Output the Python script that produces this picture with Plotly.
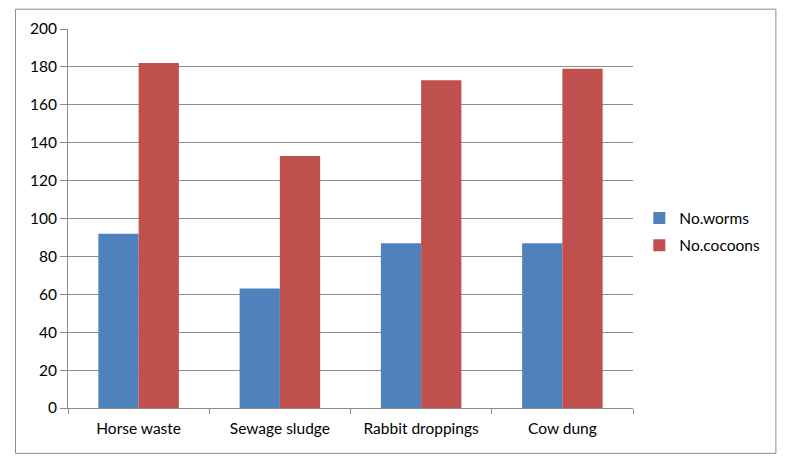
import plotly.graph_objects as go

categories = ["Horse waste", "Sewage sludge", "Rabbit droppings", "Cow dung"]
worms = [92, 63, 87, 87]
cocoons = [182, 133, 173, 179]
series_names = ["No.worms", "No.cocoons"]
y_ticks = [0, 20, 40, 60, 80, 100, 120, 140, 160, 180, 200]

BLUE = "#4F81BD"
RED = "#C0504D"
GRID = "#8C8C8C"
FONT = dict(family="Lato, Open Sans, sans-serif", size=15.5, color="#000000")

fig = go.Figure()
fig.add_trace(go.Bar(x=categories, y=worms, name=series_names[0], legendgroup="a",
                     marker=dict(color=BLUE, line=dict(width=0))))
fig.add_trace(go.Bar(x=categories, y=cocoons, name=series_names[1], legendgroup="b",
                     marker=dict(color=RED, line=dict(width=0))))

W, H = 786, 462
OFF = 8  # page body offset
# target pixel positions (in screenshot) of the plot area
left_px, right_px, top_px, bottom_px = 68, 632.7, 29.3, 407.7
ml = left_px - OFF
mt = top_px - OFF
mr = W - (right_px - OFF)
mb = H - (bottom_px - OFF)
pw = W - ml - mr
ph = H - mt - mb

def px_to_paper_x(px):
    return (px - left_px) / pw

def px_to_paper_y(py):
    return (bottom_px - py) / ph

fig.update_layout(
    width=W, height=H,
    margin=dict(l=ml, r=mr, t=mt, b=mb),
    paper_bgcolor="white", plot_bgcolor="white",
    font=FONT,
    barmode="group",
    bargap=0.43,
    bargroupgap=0,
    showlegend=True,
    legend=dict(x=px_to_paper_x(639), y=px_to_paper_y(232), xanchor="left", yanchor="middle",
                font=dict(family=FONT["family"], size=15.5), bgcolor="rgba(0,0,0,0)",
                tracegroupgap=4),
    xaxis=dict(showline=True, linecolor=GRID, linewidth=1, ticks="outside", tickson="boundaries",
               ticklen=5, tickcolor=GRID, showgrid=False, tickfont=FONT, ticklabelstandoff=6),
    yaxis=dict(range=[0, 200], tickvals=y_ticks, showline=True, linecolor=GRID, linewidth=1,
               ticks="outside", ticklen=7, tickcolor=GRID, showgrid=True, gridcolor=GRID,
               gridwidth=1, zeroline=False, tickfont=FONT),
    shapes=[dict(type="rect", xref="paper", yref="paper",
                 x0=px_to_paper_x(15.5), x1=px_to_paper_x(775.5),
                 y0=px_to_paper_y(453), y1=px_to_paper_y(9.5),
                 line=dict(color=GRID, width=1), fillcolor="rgba(0,0,0,0)", layer="below")],
)

fig.write_html("out.html")
